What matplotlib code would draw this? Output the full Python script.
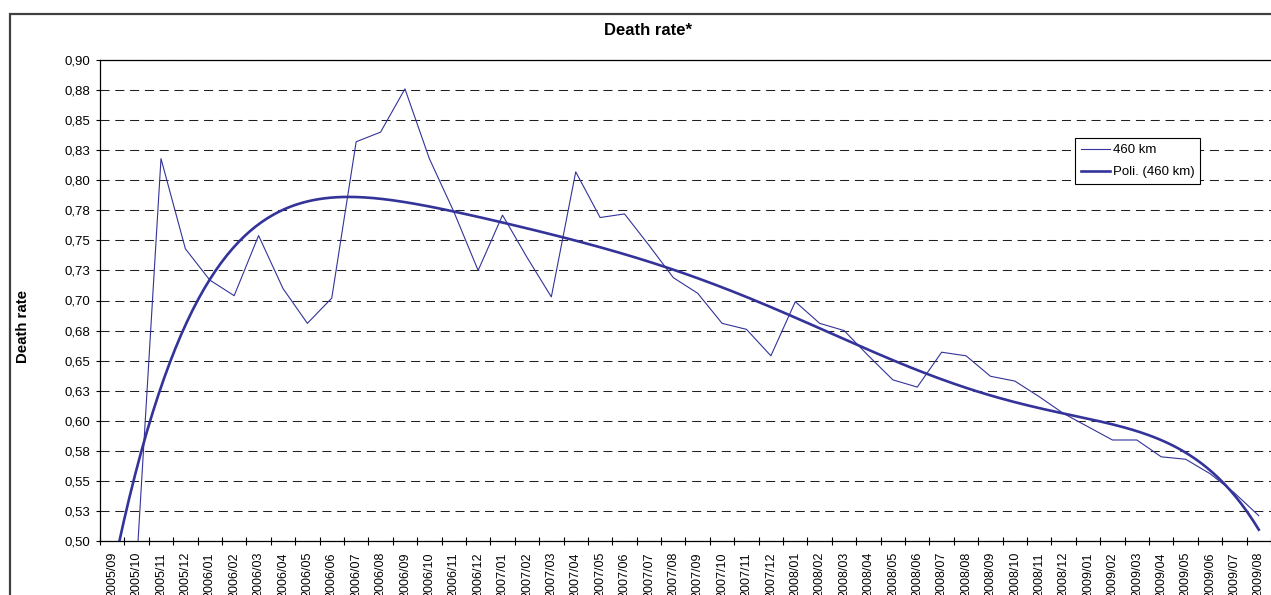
#!/usr/bin/env python3
# -*- coding: utf-8 -*-

"""
Death rate chart, 460 km series with polynomial trend
"""

from decimal import Decimal, ROUND_HALF_UP

import numpy as np
import matplotlib
matplotlib.use("Agg")
import matplotlib.pyplot as plt
import matplotlib.ticker as ticker
from matplotlib.patches import Rectangle
from matplotlib.lines import Line2D

plt.rcParams['font.family'] = ['Liberation Sans', 'DejaVu Sans']

##! data
months = ['2005/09', '2005/10', '2005/11', '2005/12',
          '2006/01', '2006/02', '2006/03', '2006/04', '2006/05', '2006/06',
          '2006/07', '2006/08', '2006/09', '2006/10', '2006/11', '2006/12',
          '2007/01', '2007/02', '2007/03', '2007/04', '2007/05', '2007/06',
          '2007/07', '2007/08', '2007/09', '2007/10', '2007/11', '2007/12',
          '2008/01', '2008/02', '2008/03', '2008/04', '2008/05', '2008/06',
          '2008/07', '2008/08', '2008/09', '2008/10', '2008/11', '2008/12',
          '2009/01', '2009/02', '2009/03', '2009/04', '2009/05', '2009/06',
          '2009/07', '2009/08']

rate_460 = [0.420, 0.480, 0.818, 0.743,
            0.717, 0.704, 0.754, 0.710, 0.681, 0.702,
            0.832, 0.840, 0.876, 0.818, 0.774, 0.725,
            0.771, 0.736, 0.703, 0.807, 0.769, 0.772,
            0.746, 0.719, 0.706, 0.681, 0.676, 0.654,
            0.699, 0.681, 0.675, 0.654, 0.634, 0.628,
            0.657, 0.654, 0.637, 0.633, 0.620, 0.606,
            0.595, 0.584, 0.584, 0.570, 0.568, 0.556,
            0.540, 0.521]

series_name = '460 km'
trend_name = 'Poli. (460 km)'
trend_order = 6

y_min, y_max, y_step = 0.50, 0.90, 0.025

##! trend, like the spreadsheet: x = 1..n
xnum = np.arange(1, len(rate_460) + 1)
poly = np.polynomial.Polynomial.fit(xnum, rate_460, trend_order)
xs = np.linspace(1, len(rate_460), 400)
ys = poly(xs)


def comma_fmt(v, pos):
    d = Decimal(str(round(v, 4))).quantize(Decimal('0.01'),
                                           rounding=ROUND_HALF_UP)
    return str(d).replace('.', ',')


W, H = 1271, 595
fig = plt.figure(figsize=(W / 100., H / 100.), dpi=100)
fig.patch.set_facecolor('white')

# chart area border (left and top visible)
fig.add_artist(Rectangle((10 / W, -0.5), 2.0, 0.5 + 1 - 14 / H,
                         transform=fig.transFigure, fill=False,
                         ec='#404040', lw=1.6))

ax = fig.add_axes([100 / W, 1 - 541 / H, 1171 / W, 481 / H])

navy = '#333399'
xpos = np.arange(len(months))
ax.plot(xpos, rate_460, color=navy, lw=0.8, zorder=3)
ax.plot(xs - 1, ys, color=navy, lw=1.9, zorder=4)

ax.set_xlim(-0.5, len(months) - 0.5)
ax.set_ylim(y_min, y_max)

# y axis
ax.yaxis.set_major_locator(ticker.MultipleLocator(y_step))
ax.yaxis.set_major_formatter(ticker.FuncFormatter(comma_fmt))
ax.tick_params(axis='y', which='major', direction='out', length=3,
               width=0.8, pad=4, labelsize=9.5, color='black')
ax.yaxis.grid(True, linestyle=(0, (8.7, 5.5)), color='#202020', lw=0.75)
ax.set_axisbelow(True)

# x axis: ticks between categories, labels at centres
ax.set_xticks(np.arange(-0.5, len(months), 1.0))
ax.set_xticklabels([])
ax.set_xticks(xpos, minor=True)
ax.set_xticklabels(months, minor=True, rotation=90, fontsize=9,
                   va='top', ha='center')
ax.tick_params(axis='x', which='major', direction='inout', length=6,
               width=0.8, color='black')
ax.tick_params(axis='x', which='minor', length=0, pad=8)

for s in ['left', 'bottom', 'top']:
    ax.spines[s].set_color('black')
    ax.spines[s].set_linewidth(0.9)
ax.spines['right'].set_visible(False)

fig.text(648 / W, 1 - 35 / H, 'Death rate*', ha='center', va='baseline',
         fontsize=12, fontweight='bold')
fig.text(23.5 / W, 1 - 326 / H, 'Death rate', rotation=90, ha='center',
         va='center', fontsize=10.8, fontweight='bold')

handles = [Line2D([], [], color=navy, lw=0.8),
           Line2D([], [], color=navy, lw=1.9)]
leg = ax.legend(handles, [series_name, trend_name], loc='upper left',
                bbox_to_anchor=(1075 / W, 1 - 138 / H),
                bbox_transform=fig.transFigure, borderaxespad=0,
                fancybox=False, edgecolor='black', framealpha=1,
                fontsize=9.5, handlelength=2.2, handletextpad=0.2,
                labelspacing=0.75, borderpad=0.45)
leg.get_frame().set_linewidth(0.8)

fig.savefig('out.png', dpi=100)
